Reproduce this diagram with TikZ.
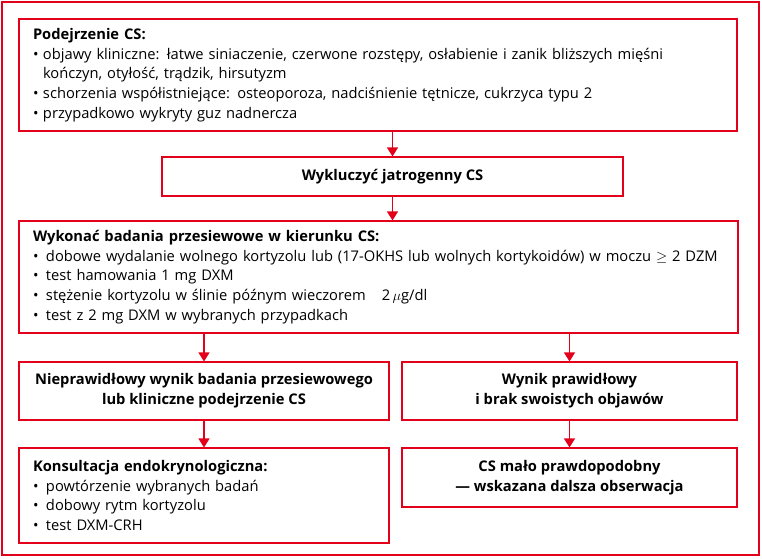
\documentclass[tikz,border=0pt]{standalone}
\usepackage{fontspec}
\setmainfont{Open Sans}
\usetikzlibrary{arrows.meta,positioning}
\definecolor{csRed}{RGB}{226,0,26}
\setlength{\parindent}{0pt}
\newcommand{\bitem}[1][13pt]{\par\hangindent=#1\hangafter=1\makebox[#1][l]{\textbullet}}

\begin{document}
\begin{tikzpicture}[x=1pt,y=-1pt,
      font=\fontsize{14.7}{19.8}\selectfont,
      >={Triangle[length=9pt,width=11pt]},
      box/.style={rectangle,draw=csRed,line width=1.1pt,inner xsep=14pt,inner ysep=0pt,
                  align=left},
      ctr/.style={box,align=center,font=\fontsize{14.7}{19.8}\selectfont\bfseries},
      ar/.style={->,csRed,line width=1.1pt}]

    \useasboundingbox (0,0) rectangle (762,558);
    \draw[csRed,line width=1.1pt] (2,2) rectangle (759,555);

    % ---------- suspicion and exclusion ----------
    \node[box,text width=690pt,minimum height=112pt] (susp) at (378,75)
      {\textbf{Podejrzenie CS:}
       \bitem[10pt]objawy kliniczne: łatwe siniaczenie, czerwone rozstępy, osłabienie i zanik bliższych mięśni\newline
       kończyn, otyłość, trądzik, hirsutyzm
       \bitem[10pt]schorzenia współistniejące: osteoporoza, nadciśnienie tętnicze, cukrzyca typu 2
       \bitem[10pt]przypadkowo wykryty guz nadnercza};
    \node[ctr,minimum width=461pt,minimum height=39pt] (excl) at (392.5,176.5)
      {Wykluczyć jatrogenny CS};

    % ---------- screening ----------
    \node[box,text width=691pt,minimum height=112pt] (scrn) at (378.5,277)
      {\textbf{Wykonać badania przesiewowe w kierunku CS:}
       \bitem dobowe wydalanie wolnego kortyzolu lub (17-OKHS lub wolnych kortykoidów) w moczu $\geq$ 2 DZM
       \bitem test hamowania 1 mg DXM
       \bitem stężenie kortyzolu w ślinie późnym wieczorem\hspace{1.1em}2\,$\mu$g/dl
       \bitem test z 2 mg DXM w wybranych przypadkach};
    \draw[ar] (susp.south -| excl) -- (excl.north);
    \draw[ar] (excl.south) -- (excl.south |- scrn.north);

    % ---------- result branches ----------
    \node[ctr,minimum width=370pt,minimum height=58pt] (abn) at (204,391)
      {Nieprawidłowy wynik badania przesiewowego\\lub kliniczne podejrzenie CS};
    \node[ctr,minimum width=335pt,minimum height=58pt] (nrm) at (569.5,391)
      {Wynik prawidłowy\\i brak swoistych objawów};
    \foreach \n in {abn,nrm} \draw[ar] (\n |- scrn.south) -- (\n.north);

    % ---------- follow-up ----------
    \node[box,text width=342pt,minimum height=95pt] (endo) at (204,495.5)
      {\textbf{Konsultacja endokrynologiczna:}
       \bitem powtórzenie wybranych badań
       \bitem dobowy rytm kortyzolu
       \bitem test DXM-CRH};
    \node[ctr,minimum width=335pt,minimum height=59pt] (unlk) at (569.5,477.5)
      {CS mało prawdopodobny\\— wskazana dalsza obserwacja};
    \draw[ar] (abn) -- (endo);
    \draw[ar] (nrm) -- (unlk);
  \end{tikzpicture}
\end{document}
